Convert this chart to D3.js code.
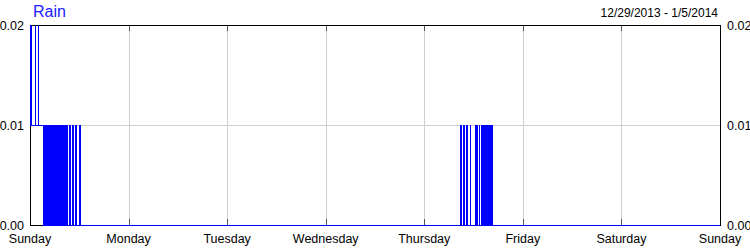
<!DOCTYPE html>
<html>
<head>
<meta charset="utf-8">
<script src="https://cdn.jsdelivr.net/npm/d3@7"></script>
<style>
  body { margin: 0; background: #fff; }
  svg { display: block; font-family: "Liberation Sans", Arial, sans-serif; }
</style>
</head>
<body>
<div class="chart-container"></div>
<script>
/*** DATA ***/
// rain readings: hours since Sunday 12/29/2013 00:00, value holds until the next reading
const rainHours = [
  0, 0.15, 0.39, 0.46, 1.27, 1.34, 2.0, 2.07,
  3.31, 3.42, 3.58, 3.70, 3.83, 3.97, 4.08, 4.25, 4.37, 4.50, 4.66, 4.78,
  4.92, 5.06, 5.17, 5.33, 5.45, 5.58, 5.75, 5.87, 6.00, 6.16, 6.28, 6.41,
  6.58, 6.70, 6.83, 6.97, 7.08, 7.25, 7.37, 7.50, 7.66, 7.78, 7.90,
  8.08, 8.16, 8.42, 8.50, 8.75, 8.83, 9.17, 9.25, 9.50, 9.58, 9.79, 9.85,
  10.38, 10.50, 11.08, 11.21, 12.15, 12.25,
  104.90, 104.98, 105.62, 105.70, 106.33, 106.45, 107.22, 107.27,
  108.42, 108.50, 108.80, 108.87, 109.40, 109.48,
  109.93, 110.05, 110.18, 110.30, 110.45, 110.57, 110.70, 110.84, 110.96, 111.10,
  111.22, 111.36, 111.48, 111.63, 111.75, 111.88, 112.00, 112.12, 112.22, 112.28,
  112.58, 112.65,
  168
];
const rainValues = [
  0.02, 0.01, 0.02, 0.01, 0.02, 0.01, 0.02, 0.01,
  0, 0.01, 0, 0.01, 0, 0.01, 0, 0.01, 0, 0.01, 0, 0.01,
  0, 0.01, 0, 0.01, 0, 0.01, 0, 0.01, 0, 0.01, 0, 0.01,
  0, 0.01, 0, 0.01, 0, 0.01, 0, 0.01, 0, 0.01, 0,
  0.01, 0, 0.01, 0, 0.01, 0, 0.01, 0, 0.01, 0, 0.01, 0,
  0.01, 0, 0.01, 0, 0.01, 0,
  0.01, 0, 0.01, 0, 0.01, 0, 0.01, 0,
  0.01, 0, 0.01, 0, 0.01, 0,
  0.01, 0, 0.01, 0, 0.01, 0, 0.01, 0, 0.01, 0,
  0.01, 0, 0.01, 0, 0.01, 0, 0.01, 0, 0.01, 0,
  0.01, 0,
  0
];
const yTicks = [0, 0.01, 0.02];
const weekStart = new Date(2013, 11, 29);
const weekEnd = new Date(2014, 0, 5);
const titleText = 'Rain';
const rangeText = '12/29/2013 - 1/5/2014';

/*** DRAW CHART ***/
function drawChart() {
  const margin = { top: 25, left: 30, right: 30, bottom: 25 };
  const width = 750 - margin.left - margin.right,
        height = 250 - margin.top - margin.bottom;

  const svg = d3.select('.chart-container')
    .append('svg')
    .attr('width', width + margin.left + margin.right)
    .attr('height', height + margin.top + margin.bottom);

  const g = svg.append('g')
    .attr('transform', `translate(${margin.left}, ${margin.top})`);

  const x = d3.scaleTime().domain([weekStart, weekEnd]).range([0, width]);
  const y = d3.scaleLinear().domain([0, 0.02]).range([height, 0]);

  const days = d3.timeDay.range(weekStart, d3.timeDay.offset(weekEnd, 1));

  // grid
  g.append('g')
    .selectAll('line')
    .data(days.slice(1, -1))
    .join('line')
    .attr('x1', d => Math.round(x(d)) + 0.5)
    .attr('x2', d => Math.round(x(d)) + 0.5)
    .attr('y1', 0)
    .attr('y2', height)
    .style('stroke', '#d0d0d0');

  g.append('line')
    .attr('x1', 0).attr('x2', width)
    .attr('y1', y(0.01) + 0.5).attr('y2', y(0.01) + 0.5)
    .style('stroke', '#d0d0d0');

  // inner ticks top and bottom
  const tickG = g.append('g').style('stroke', '#555');
  tickG.selectAll('.tb')
    .data(days.slice(1, -1))
    .join('line')
    .attr('x1', d => Math.round(x(d)) + 0.5)
    .attr('x2', d => Math.round(x(d)) + 0.5)
    .attr('y1', height - 6)
    .attr('y2', height);
  tickG.selectAll('.tt')
    .data(days.slice(1, -1))
    .join('line')
    .attr('x1', d => Math.round(x(d)) + 0.5)
    .attr('x2', d => Math.round(x(d)) + 0.5)
    .attr('y1', 0)
    .attr('y2', 6);

  // rain line
  const pts = rainHours.map((h, i) => [d3.timeMinute.offset(weekStart, Math.round(h * 60)), rainValues[i]]);
  const line = d3.line()
    .x(d => x(d[0]))
    .y(d => Math.round(y(d[1])) + 0.5)
    .curve(d3.curveStepAfter);

  // frame
  g.append('rect')
    .attr('x', 0.5).attr('y', 0.5)
    .attr('width', width).attr('height', height)
    .style('fill', 'none')
    .style('stroke', '#000');

  g.append('path')
    .datum(pts)
    .attr('d', line)
    .style('fill', 'none')
    .style('stroke', '#0000ff')
    .style('stroke-width', 1)
    .style('shape-rendering', 'crispEdges');

  // y labels both sides
  const fmt = d3.format('.2f');
  g.append('g')
    .selectAll('text')
    .data(yTicks)
    .join('text')
    .attr('x', -6)
    .attr('y', d => y(d) + 4.5)
    .attr('text-anchor', 'end')
    .style('font-size', '12.5px')
    .style('fill', '#000')
    .text(fmt);

  g.append('g')
    .selectAll('text')
    .data(yTicks)
    .join('text')
    .attr('x', width + 7)
    .attr('y', d => y(d) + 4.5)
    .attr('text-anchor', 'start')
    .style('font-size', '12.5px')
    .style('fill', '#000')
    .text(fmt);

  // day labels
  g.append('g')
    .selectAll('text')
    .data(days)
    .join('text')
    .attr('x', d => x(d))
    .attr('y', height + 17.5)
    .attr('text-anchor', 'middle')
    .style('font-size', '12.5px')
    .style('fill', '#000')
    .text(d3.timeFormat('%A'));

  // titles
  svg.append('text')
    .attr('x', 33)
    .attr('y', 16.5)
    .style('font-size', '16px')
    .style('fill', '#2020ff')
    .text(titleText);

  svg.append('text')
    .attr('x', 718)
    .attr('y', 17)
    .attr('text-anchor', 'end')
    .style('font-size', '12px')
    .style('fill', '#000')
    .text(rangeText);
}

drawChart();
</script>
</body>
</html>
